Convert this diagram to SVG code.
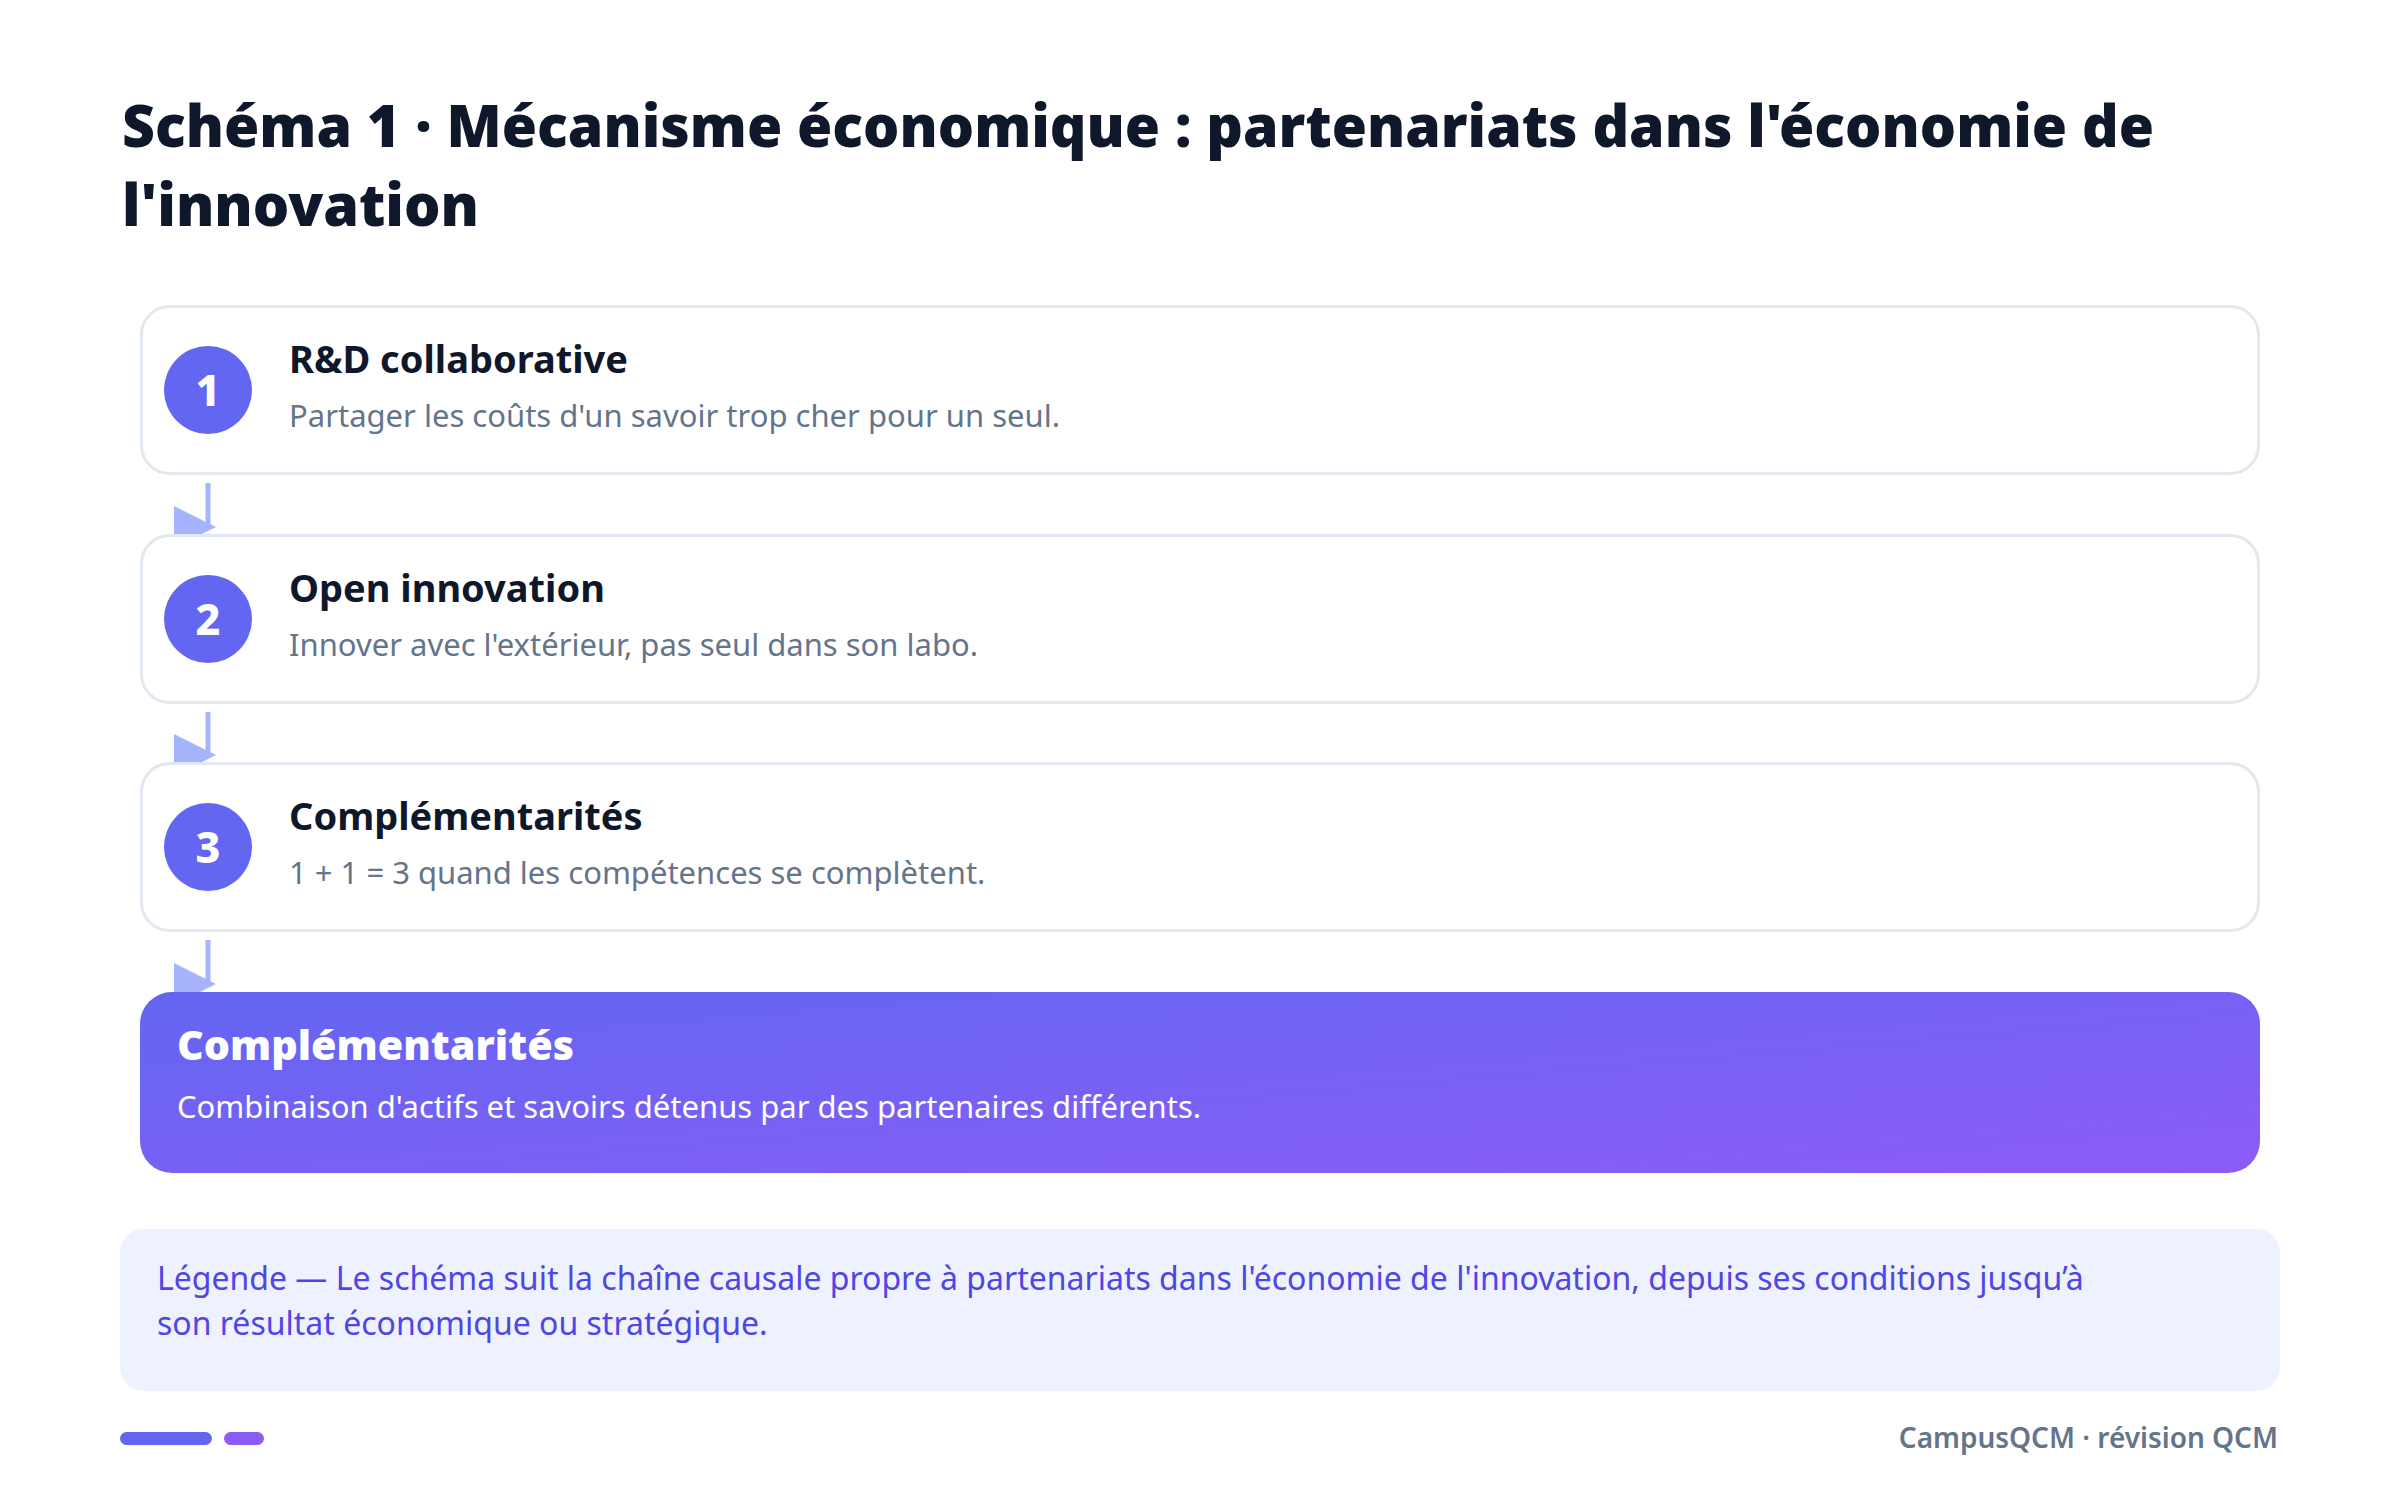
<svg xmlns="http://www.w3.org/2000/svg" width="2400" height="1499" viewBox="0 0 2400 1499">
  <defs>
    <linearGradient id="gFinal" x1="0" y1="0" x2="1" y2="1">
      <stop offset="0" stop-color="#6366f1"/>
      <stop offset="1" stop-color="#8b5cf6"/>
    </linearGradient>
    <marker id="arrow" markerUnits="userSpaceOnUse" markerWidth="42" markerHeight="42" viewBox="0 0 10 10" refX="8.1" refY="5">
      <path d="M0,0 L10,5 L0,10 z" fill="#a5b4fc"/>
    </marker>
    <style>
      .h1 { font-family: "Noto Sans", "Open Sans", sans-serif; font-weight: 900; font-size: 59px; fill: #0f172a; }
      .card { fill: #ffffff; stroke: #e2e8f0; stroke-width: 3; }
      .num-c { fill: #6366f1; }
      .num { font-family: "Noto Sans", "Open Sans", sans-serif; font-weight: 800; font-size: 43px; fill: #ffffff; text-anchor: middle; }
      .ttl { font-family: "Noto Sans", "Open Sans", sans-serif; font-weight: 700; font-size: 38px; fill: #0f172a; }
      .sub { font-family: "Noto Sans", "Open Sans", sans-serif; font-weight: 400; font-size: 31px; fill: #64748b; }
      .fttl { font-family: "Noto Sans", "Open Sans", sans-serif; font-weight: 900; font-size: 40px; fill: #ffffff; }
      .fsub { font-family: "Noto Sans", "Open Sans", sans-serif; font-weight: 400; font-size: 31px; fill: #ffffff; }
      .leg { font-family: "Noto Sans", "Open Sans", sans-serif; font-weight: 400; font-size: 32px; fill: #4f46e5; }
      .foot { font-family: "Noto Sans", "Open Sans", sans-serif; font-weight: 600; font-size: 28px; fill: #64748b; text-anchor: end; }
      .conn { stroke: #a5b4fc; stroke-width: 5; fill: none; marker-end: url(#arrow); }
    </style>
  </defs>
  <rect width="2400" height="1499" fill="#ffffff"/>

  <g id="title">
    <text class="h1" x="122" y="147" textLength="2032" lengthAdjust="spacingAndGlyphs">Schéma 1 · Mécanisme économique : partenariats dans l'économie de</text>
    <text class="h1" x="122" y="226" textLength="357" lengthAdjust="spacingAndGlyphs">l'innovation</text>
  </g>

  <g id="connectors">
    <line class="conn" x1="208" y1="483" x2="208" y2="527"/>
    <line class="conn" x1="208" y1="712" x2="208" y2="755"/>
    <line class="conn" x1="208" y1="940" x2="208" y2="984"/>
  </g>

  <g id="node-1">
    <rect class="card" x="141.5" y="306.5" width="2117" height="167" rx="28"/>
    <circle class="num-c" cx="208" cy="390" r="44"/>
    <text class="num" x="208" y="406">1</text>
    <text class="ttl" x="289" y="373">R&amp;D collaborative</text>
    <text class="sub" x="289" y="427">Partager les coûts d'un savoir trop cher pour un seul.</text>
  </g>

  <g id="node-2">
    <rect class="card" x="141.5" y="535.5" width="2117" height="167" rx="28"/>
    <circle class="num-c" cx="208" cy="619" r="44"/>
    <text class="num" x="208" y="635">2</text>
    <text class="ttl" x="289" y="602">Open innovation</text>
    <text class="sub" x="289" y="656">Innover avec l'extérieur, pas seul dans son labo.</text>
  </g>

  <g id="node-3">
    <rect class="card" x="141.5" y="763.5" width="2117" height="167" rx="28"/>
    <circle class="num-c" cx="208" cy="847" r="44"/>
    <text class="num" x="208" y="863">3</text>
    <text class="ttl" x="289" y="830">Complémentarités</text>
    <text class="sub" x="289" y="884">1 + 1 = 3 quand les compétences se complètent.</text>
  </g>

  <g id="node-result">
    <rect x="140" y="992" width="2120" height="181" rx="32" fill="url(#gFinal)"/>
    <text class="fttl" x="177" y="1060" textLength="397" lengthAdjust="spacingAndGlyphs">Complémentarités</text>
    <text class="fsub" x="177" y="1118">Combinaison d'actifs et savoirs détenus par des partenaires différents.</text>
  </g>

  <g id="legend">
    <rect x="120" y="1229" width="2160" height="162" rx="24" fill="#eef2ff"/>
    <text class="leg" x="157" y="1290">Légende — Le schéma suit la chaîne causale propre à partenariats dans l'économie de l'innovation, depuis ses conditions jusqu’à</text>
    <text class="leg" x="157" y="1335">son résultat économique ou stratégique.</text>
  </g>

  <g id="footer">
    <rect x="120" y="1432" width="92" height="13" rx="6.5" fill="#6366f1"/>
    <rect x="224" y="1432" width="40" height="13" rx="6.5" fill="#8b5cf6"/>
    <text class="foot" x="2278" y="1448">CampusQCM · révision QCM</text>
  </g>
</svg>
